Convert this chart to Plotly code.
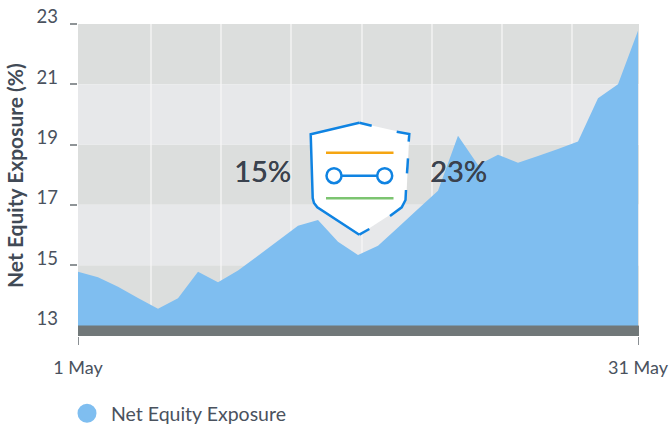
import plotly.graph_objects as go

# --- data ---
day_index = list(range(29))
net_equity_exposure = [14.78, 14.60, 14.28, 13.91, 13.55, 13.90, 14.78, 14.43, 14.82, 15.31,
                       15.81, 16.31, 16.50, 15.78, 15.34, 15.64, 16.25, 16.86, 17.47, 19.29,
                       18.32, 18.66, 18.40, 18.62, 18.85, 19.10, 20.54, 21.00, 22.78]
x_tick_vals = [0, 28]
x_tick_text = ["1 May", "31 May"]
y_tick_vals = [13, 15, 17, 19, 21, 23]
y_marked_ticks = [15, 17, 19, 21, 23]
dark_bands = [(21, 23), (17, 19), (13, 15)]
light_bands = [(19, 21), (15, 17)]
grid_positions = [3.65, 7.15, 10.65, 14.2, 17.7, 21.2, 24.7]
series_name = "Net Equity Exposure"
axis_title = "Net Equity Exposure (%)"
start_label = "15%"
end_label = "23%"

# --- layout constants ---
W, H = 669, 427
L, R, T, B = 78, 639, 24, 336
Y_MIN, Y_MAX = 12.65, 23
X_MAX = 28.05
FONT = "Lato"
TEXT = "#4a525e"
BLUE_AREA = "#7fbef0"
BLUE = "#0f83e2"
STROKE = 2.5


def px(x):
    return (x - L) / (R - L)


def py(y):
    return (B - y) / (B - T)


def path(points, close=False):
    s = "M " + " L ".join(f"{px(x):.5f},{py(y):.5f}" for x, y in points)
    return s + (" Z" if close else "")


def pshape(points, color=None, width=0, fill=None, close=False):
    return dict(type="path", xref="paper", yref="paper", layer="above", path=path(points, close),
                line=dict(color=color or "rgba(0,0,0,0)", width=width),
                fillcolor=fill or "rgba(0,0,0,0)")


shapes = []
for y0, y1 in dark_bands + light_bands:
    shapes.append(dict(type="rect", xref="x", yref="y", layer="below", x0=0, x1=X_MAX, y0=y0, y1=y1,
                       fillcolor="#dcdedd" if (y0, y1) in dark_bands else "#e7e8ea", line_width=0))
for g in grid_positions:
    shapes.append(dict(type="line", xref="x", yref="y", layer="below", x0=g, x1=g, y0=Y_MIN, y1=Y_MAX,
                       line=dict(color="#f6f6f6", width=1.3)))
# base bar below 13
shapes.append(dict(type="rect", xref="x", yref="y", layer="above", x0=0, x1=X_MAX, y0=Y_MIN, y1=13,
                   fillcolor="#717879", line_width=0))

# shield decoration (pixel geometry)
left_side = [(359.3, 122.7), (310.7, 134.3), (312.7, 198), (314, 203), (317.3, 207.3), (359.3, 234.7)]
right_side = [(359.3, 234.7), (401.7, 207.3), (405, 203), (406.3, 198), (409.3, 134)]
shapes.append(pshape(left_side + right_side, fill="white", close=True))
shapes.append(pshape(left_side, color=BLUE, width=STROKE))
for seg in [
    [(359.3, 122.7), (371.7, 125.7)],
    [(396.7, 131.7), (409.3, 134), (408.7, 141.7)],
    [(408, 158.3), (407, 173.3)],
    [(406, 190), (405.5, 200), (401.7, 207.3), (390, 216)],
    [(369.3, 229), (359.3, 234.7)],
]:
    shapes.append(pshape(seg, color=BLUE, width=STROKE))
shapes.append(pshape([(326, 152.8), (393.5, 152.8)], color="#f5a511", width=2.4))
shapes.append(pshape([(326, 198.3), (393.5, 198.3)], color="#7cc470", width=2.4))
shapes.append(pshape([(334, 175.7), (384.7, 175.7)], color=BLUE, width=STROKE))
for cx in (334, 384.7):
    shapes.append(dict(type="circle", xref="paper", yref="paper", layer="above",
                       x0=px(cx - 7.5), x1=px(cx + 7.5), y0=py(175.7 + 7.5), y1=py(175.7 - 7.5),
                       fillcolor="white", line=dict(color=BLUE, width=STROKE)))

fig = go.Figure()
fig.add_trace(go.Scatter(x=day_index, y=net_equity_exposure, mode="none", fill="tozeroy",
                         fillcolor=BLUE_AREA, showlegend=False, hoverinfo="skip"))
fig.add_trace(go.Scatter(x=[None], y=[None], mode="markers", name=series_name,
                         marker=dict(color=BLUE_AREA, size=16, symbol="circle",
                                     line=dict(color=BLUE_AREA, width=3))))

big_font = dict(family=FONT, size=29, color="#3a424e", shadow="0.4px 0 0 #3a424e")
annotations = [
    dict(xref="paper", yref="paper", x=px(14.5), y=py(175.5), text=axis_title, textangle=-90, showarrow=False,
         font=dict(family=FONT, size=21, color="#414a56", weight="bold"), xanchor="center", yanchor="middle"),
    dict(xref="paper", yref="paper", x=px(262.5), y=py(170.5), text=start_label, showarrow=False,
         font=big_font, xanchor="center", yanchor="middle"),
    dict(xref="paper", yref="paper", x=px(458.5), y=py(170.5), text=end_label, showarrow=False,
         font=big_font, xanchor="center", yanchor="middle"),
]

fig.update_layout(
    width=W, height=H, autosize=False,
    margin=dict(l=L, r=W - R, t=T, b=H - B, autoexpand=False),
    paper_bgcolor="white", plot_bgcolor="white",
    font=dict(family=FONT, size=18, color=TEXT),
    shapes=shapes, annotations=annotations,
    legend=dict(x=px(63), y=py(394), xanchor="left", yanchor="top", orientation="h", itemwidth=38,
                font=dict(family=FONT, size=19.5, color=TEXT), itemsizing="trace",
                bgcolor="rgba(0,0,0,0)"),
    xaxis=dict(range=[0, X_MAX], tickmode="array", tickvals=x_tick_vals, ticktext=x_tick_text,
               showgrid=False, zeroline=False, showline=False, automargin=False,
               ticks="outside", ticklen=8, tickwidth=1, tickcolor="#8a8f93",
               ticklabeloverflow="allow", ticklabelstandoff=7,
               tickfont=dict(family=FONT, size=18, color=TEXT)),
    yaxis=dict(range=[Y_MIN, Y_MAX], tickmode="array", tickvals=y_tick_vals,
               showgrid=False, zeroline=False, showline=False, automargin=False,
               ticks="", ticklabelstandoff=19, ticklabelshift=-7, ticklabeloverflow="allow",
               tickfont=dict(family=FONT, size=18.5, color=TEXT),
               minor=dict(tickmode="array", tickvals=y_marked_ticks, ticks="outside", ticklen=7, tickwidth=1.5,
                          tickcolor="#8f9497", showgrid=False)),
)

fig.write_html("out.html", config=dict(displayModeBar=False),
               post_script="document.body.style.margin='0';document.body.style.overflow='hidden';")
